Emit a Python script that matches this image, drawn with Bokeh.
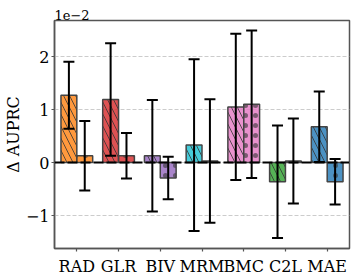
from bokeh.plotting import figure
from bokeh.models import FactorRange, Span, FixedTicker, ColumnDataSource
from bokeh.transform import dodge
from bokeh.embed import file_html
from bokeh.resources import INLINE

# Data (values in units of 1e-2)
methods = ["RAD", "GLR", "BIV", "MRM", "BMC", "C2L", "MAE"]
colors = ["#ff7f0e", "#d62728", "#9467bd", "#17becf", "#e377c2", "#2ca02c", "#1f77b4"]
mean_a = [1.27, 1.19, 0.13, 0.33, 1.05, -0.36, 0.675]
err_a = [0.63, 1.06, 1.05, 1.62, 1.38, 1.06, 0.665]
mean_b = [0.13, 0.13, -0.29, 0.03, 1.10, 0.03, -0.36]
err_b = [0.655, 0.43, 0.40, 1.165, 1.39, 0.80, 0.43]
y_ticks = [-1, 0, 1, 2]

FONT = "DejaVu Serif"

src = ColumnDataSource(dict(
    m=methods, c=colors,
    a=mean_a, a_lo=[m - e for m, e in zip(mean_a, err_a)], a_hi=[m + e for m, e in zip(mean_a, err_a)],
    b=mean_b, b_lo=[m - e for m, e in zip(mean_b, err_b)], b_hi=[m + e for m, e in zip(mean_b, err_b)],
))

p = figure(x_range=FactorRange(*methods, range_padding=0.01), y_range=(-1.62, 2.68),
           width=357, height=280,
           min_border_left=44, min_border_right=8, min_border_top=20, min_border_bottom=32,
           output_backend="svg", toolbar_location=None)

p.title.text = "1e\u22122"
p.title.text_font = FONT
p.title.text_font_size = "13px"
p.title.text_font_style = "normal"
p.title.text_color = "black"
p.title.align = "left"
p.title.standoff = 1
p.title.offset = 0

# grid
p.xgrid.grid_line_color = None
p.ygrid.ticker = FixedTicker(ticks=y_ticks)
p.ygrid.grid_line_color = "#cccccc"
p.ygrid.grid_line_dash = "4 2"
p.ygrid.grid_line_width = 1

BW = 0.38
OFF = 0.19
xa = dodge("m", -OFF, range=p.x_range)
xb = dodge("m", OFF, range=p.x_range)

p.vbar(x=xa, top="a", bottom=0, width=BW, source=src, fill_color="c", fill_alpha=0.8,
       line_color="#444444", line_width=1.5,
       hatch_pattern="left_diagonal_line", hatch_color="#333333", hatch_alpha=0.8,
       hatch_scale=12, hatch_weight=1)
p.vbar(x=xb, top="b", bottom=0, width=BW, source=src, fill_color="c", fill_alpha=0.8,
       line_color="#444444", line_width=1.5,
       hatch_pattern="dot", hatch_color="#333333", hatch_alpha=0.6,
       hatch_scale=10, hatch_weight=1)

p.add_layout(Span(location=0, dimension="width", line_color="black", line_width=2, line_dash="10 3"))

for x, lo, hi in [(xa, "a_lo", "a_hi"), (xb, "b_lo", "b_hi")]:
    p.segment(x0=x, y0=lo, x1=x, y1=hi, source=src, line_color="black", line_width=2)
    p.scatter(x=x, y=hi, source=src, marker="dash", size=11, line_color="black", line_width=2)
    p.scatter(x=x, y=lo, source=src, marker="dash", size=11, line_color="black", line_width=2)

# axes
for ax in (p.xaxis[0], p.yaxis[0]):
    ax.axis_line_color = "#555555"
    ax.axis_line_width = 1.5
    ax.major_tick_line_color = "#555555"
    ax.major_tick_line_width = 1.2
    ax.major_tick_out = 3
    ax.major_tick_in = 0
    ax.minor_tick_line_color = None
    ax.major_label_text_font = FONT
    ax.major_label_text_font_size = "16px"
    ax.major_label_text_color = "black"
p.xaxis.major_label_standoff = 5
p.yaxis.major_label_standoff = 2
p.yaxis.ticker = FixedTicker(ticks=y_ticks)
p.yaxis.major_label_overrides = {-1: "\u22121", 0: "0", 1: "1", 2: "2"}
p.yaxis.axis_label = "\u0394 AUPRC"
p.yaxis.axis_label_text_font = FONT
p.yaxis.axis_label_text_font_size = "16px"
p.yaxis.axis_label_text_font_style = "normal"
p.yaxis.axis_label_text_color = "black"
p.yaxis.axis_label_standoff = 0

p.outline_line_color = "#555555"
p.outline_line_width = 1.5

open("out.html", "w").write(file_html(p, INLINE))
